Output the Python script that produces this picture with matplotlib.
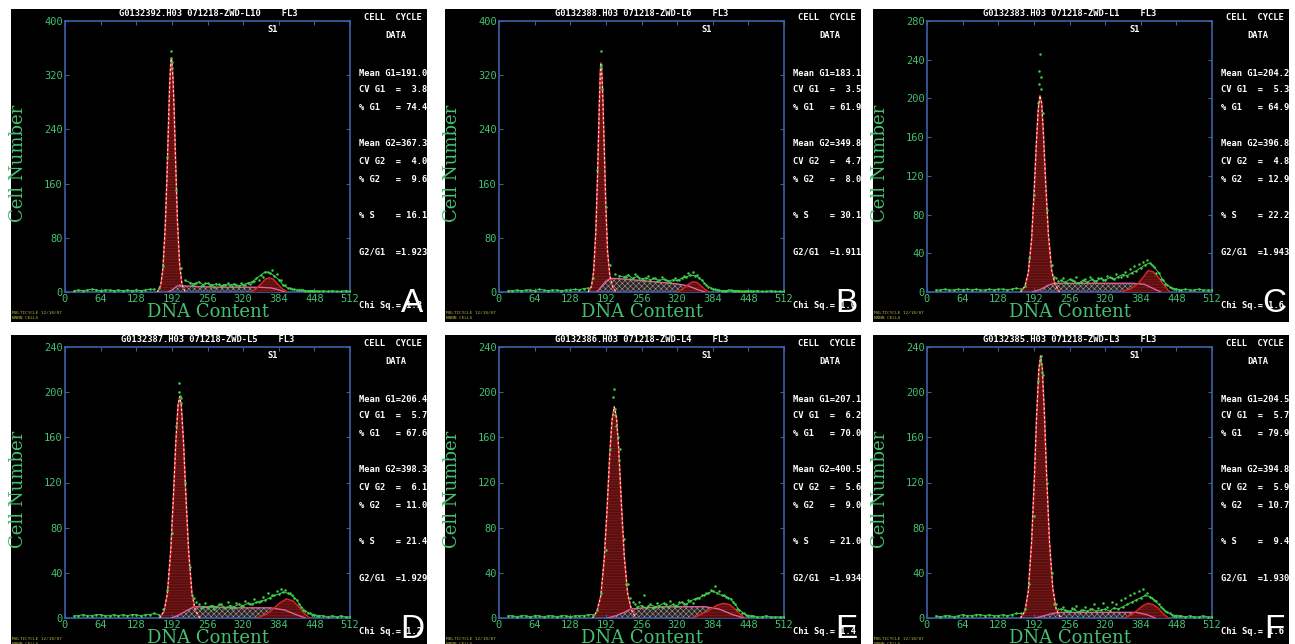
import numpy as np
import matplotlib
matplotlib.use("Agg")
from matplotlib import pyplot as plt

plt.rcParams['hatch.linewidth'] = 0.4

# canales comunes
bg_ch = list(range(16, 513, 8))
sc_ch = list(range(228, 453, 8))
x_ticks = [0, 64, 128, 192, 256, 320, 384, 448, 512]

letters = ["A", "B", "C", "D", "E", "F"]
files = ["G0132392.H03 071218-ZWD-L10", "G0132388.H03 071218-ZWD-L6", "G0132383.H03 071218-ZWD-L1",
         "G0132387.H03 071218-ZWD-L5", "G0132386.H03 071218-ZWD-L4", "G0132385.H03 071218-ZWD-L3"]
y_max = [400, 400, 280, 240, 240, 240]
y_step = [80, 80, 40, 40, 40, 40]

mean_g1 = [191.0, 183.1, 204.2, 206.4, 207.1, 204.5]
cv_g1 = [3.8, 3.5, 5.3, 5.7, 6.2, 5.7]
pct_g1 = [74.4, 61.9, 64.9, 67.6, 70.0, 79.9]
mean_g2 = [367.3, 349.8, 396.8, 398.3, 400.5, 394.8]
cv_g2 = [4.0, 4.7, 4.8, 6.1, 5.6, 5.9]
pct_g2 = [9.6, 8.0, 12.9, 11.0, 9.0, 10.7]
pct_s = [16.1, 30.1, 22.2, 21.4, 21.0, 9.4]
g2_g1 = [1.923, 1.911, 1.943, 1.929, 1.934, 1.930]
chi_sq = [1.3, 1.0, 1.6, 1.2, 1.4, 1.6]

# --- A ---
A_g1_x = [166, 172, 176, 180, 183, 186, 188, 190, 191, 192, 194, 196, 199, 202, 206, 210, 216]
A_g1_y = [0, 10, 35, 95, 165, 250, 305, 338, 345, 340, 315, 270, 185, 105, 40, 12, 0]
A_s_x = [186, 194, 200, 206, 214, 240, 280, 320, 350, 370, 385, 395]
A_s_y = [0, 4, 8, 10, 9, 8, 7, 7, 7, 6, 3, 0]
A_g2_x = [335, 345, 352, 360, 367, 374, 382, 390, 400]
A_g2_y = [0, 6, 12, 19, 21, 19, 12, 5, 0]
A_bg = [2, 3, 2, 3, 4, 3, 2, 3, 3, 2, 3, 2, 3, 2, 3, 2, 3, 4, 4,
        6, 38, 200, 340, 150, 35, 17, 14, 12, 15, 11, 13, 10, 12, 9, 11, 10, 12, 9, 11, 13, 15,
        20, 25, 30, 28, 24, 18, 10, 6, 4, 3, 3, 2, 2, 2, 1, 2, 1, 2, 1, 1, 2, 1]
A_sc = [10, 14, 9, 13, 11, 8, 12, 10, 14, 9, 11, 13, 10, 12, 16, 18, 22, 30, 33, 26,
        18, 10, 6, 4, 3, 3, 2, 2, 1]
A_pk_x = [190, 191, 192]
A_pk_y = [356, 345, 330]

# --- B ---
B_g1_x = [160, 166, 170, 174, 177, 180, 182, 183, 184, 186, 189, 192, 195, 199, 204, 210]
B_g1_y = [0, 8, 30, 90, 170, 270, 325, 338, 335, 300, 215, 125, 60, 25, 8, 0]
B_s_x = [176, 184, 192, 200, 210, 240, 280, 320, 340, 355, 370]
B_s_y = [0, 8, 16, 20, 20, 18, 15, 12, 9, 4, 0]
B_g2_x = [320, 330, 338, 345, 350, 356, 363, 370, 378]
B_g2_y = [0, 4, 10, 14, 15, 14, 9, 4, 0]
B_bg = [2, 2, 3, 2, 3, 3, 2, 4, 3, 2, 3, 3, 2, 3, 3, 4, 3, 5, 6,
        20, 180, 335, 125, 40, 26, 24, 22, 25, 20, 23, 19, 21, 18, 20, 17, 19, 16, 18, 17, 20,
        22, 25, 24, 21, 14, 8, 4, 3, 2, 2, 3, 2, 2, 1, 2, 1, 2, 1, 1, 2, 1, 1, 1]
B_sc = [22, 19, 26, 21, 17, 23, 20, 16, 22, 18, 15, 20, 18, 24, 28, 30, 25, 18, 10, 6,
        4, 3, 2, 3, 2, 2, 1, 2, 1]
B_pk_x = [183, 184, 185]
B_pk_y = [355, 330, 300]

# --- C ---
C_g1_x = [168, 176, 182, 188, 193, 197, 200, 203, 206, 209, 213, 218, 224, 230, 238]
C_g1_y = [0, 6, 20, 55, 110, 160, 190, 203, 195, 165, 115, 60, 22, 8, 0]
C_s_x = [190, 205, 218, 228, 260, 300, 340, 370, 390, 405, 420]
C_s_y = [0, 3, 7, 9, 9, 9, 9, 9, 8, 4, 0]
C_g2_x = [350, 365, 378, 388, 397, 406, 416, 426, 436]
C_g2_y = [0, 3, 8, 15, 22, 21, 15, 7, 0]
C_bg = [2, 2, 3, 2, 2, 3, 2, 3, 2, 3, 2, 2, 3, 2, 3, 3, 2, 3, 4,
        3, 6, 35, 100, 195, 185, 85, 28, 14, 12, 10, 13, 11, 9, 12, 10, 13, 11, 14, 12, 15,
        13, 16, 18, 17, 20, 22, 25, 28, 30, 26, 20, 12, 7, 4, 3, 2, 3, 2, 2, 3, 2, 2, 2]
C_sc = [16, 11, 14, 9, 12, 15, 10, 13, 16, 11, 14, 12, 17, 14, 19, 16, 21, 24, 27, 29,
        31, 33, 28, 20, 13, 8, 5, 3, 2]
C_pk_x = [201, 202, 203, 204, 205]
C_pk_y = [215, 228, 246, 222, 210]

# --- D ---
D_g1_x = [170, 178, 184, 190, 195, 199, 203, 206, 209, 213, 217, 222, 228, 234, 242]
D_g1_y = [0, 6, 22, 60, 110, 155, 188, 196, 188, 155, 110, 60, 22, 7, 0]
D_s_x = [192, 206, 220, 232, 260, 300, 340, 370, 395, 415, 432]
D_s_y = [0, 3, 7, 10, 10, 9, 9, 9, 7, 3, 0]
D_g2_x = [345, 360, 372, 385, 398, 410, 420, 430, 440]
D_g2_y = [0, 3, 7, 13, 17, 15, 10, 4, 0]
D_bg = [2, 2, 3, 2, 2, 3, 3, 2, 2, 3, 2, 3, 2, 3, 3, 2, 3, 3, 4,
        3, 8, 25, 75, 170, 195, 120, 45, 18, 12, 10, 9, 11, 10, 12, 9, 11, 10, 12, 11, 13,
        12, 14, 15, 16, 18, 20, 21, 23, 22, 20, 16, 10, 6, 4, 3, 2, 2, 1, 2, 1, 2, 1, 1]
D_sc = [20, 14, 9, 13, 11, 8, 12, 10, 14, 9, 13, 11, 15, 12, 17, 14, 19, 22, 20, 24,
        26, 25, 22, 18, 12, 7, 4, 3, 2]
D_pk_x = [204, 205, 207, 208]
D_pk_y = [200, 208, 197, 190]

# --- E ---
E_g1_x = [168, 176, 183, 189, 194, 199, 203, 207, 211, 215, 220, 225, 231, 238, 246]
E_g1_y = [0, 6, 20, 52, 95, 145, 175, 187, 178, 150, 100, 55, 22, 7, 0]
E_s_x = [195, 210, 225, 237, 260, 300, 340, 370, 395, 420, 440]
E_s_y = [0, 2, 5, 8, 9, 10, 10, 10, 8, 3, 0]
E_g2_x = [348, 362, 375, 390, 402, 414, 424, 432, 442]
E_g2_y = [0, 3, 6, 11, 13, 12, 8, 4, 0]
E_bg = [2, 2, 1, 2, 2, 1, 2, 2, 1, 2, 2, 1, 2, 2, 1, 2, 2, 2, 3,
        3, 7, 22, 60, 150, 185, 140, 70, 30, 14, 10, 11, 9, 12, 10, 11, 13, 10, 12, 11, 14,
        12, 15, 17, 18, 20, 22, 24, 22, 20, 19, 17, 12, 7, 4, 2, 2, 1, 1, 2, 1, 1, 1, 1]
E_sc = [30, 18, 12, 14, 20, 11, 9, 13, 10, 12, 15, 11, 14, 12, 16, 13, 18, 20, 22, 25,
        28, 24, 20, 18, 14, 8, 4, 3, 2]
E_pk_x = [205, 207, 209, 211, 214, 218]
E_pk_y = [196, 203, 180, 170, 160, 150]

# --- F ---
F_g1_x = [168, 176, 182, 188, 193, 197, 201, 204, 207, 211, 215, 220, 226, 232, 240]
F_g1_y = [0, 6, 24, 68, 125, 180, 220, 232, 222, 180, 125, 68, 26, 8, 0]
F_s_x = [195, 210, 225, 240, 280, 320, 350, 375, 395, 410]
F_s_y = [0, 2, 4, 5, 5, 5, 5, 5, 3, 0]
F_g2_x = [355, 368, 378, 388, 397, 406, 415, 424, 434]
F_g2_y = [0, 3, 7, 11, 13, 12, 9, 4, 0]
F_bg = [2, 1, 2, 2, 1, 2, 3, 2, 2, 3, 3, 2, 3, 2, 2, 3, 2, 3, 4,
        4, 8, 30, 90, 210, 215, 120, 40, 12, 8, 7, 6, 8, 5, 7, 6, 8, 6, 7, 8, 6,
        9, 8, 10, 12, 14, 16, 18, 20, 19, 16, 12, 8, 5, 3, 2, 2, 1, 2, 1, 1, 2, 1, 1]
F_sc = [12, 8, 10, 6, 9, 11, 7, 10, 8, 12, 9, 13, 10, 14, 12, 16, 18, 20, 22, 24,
        26, 22, 18, 15, 10, 6, 4, 2, 2]
F_pk_x = [203, 204, 205, 206]
F_pk_y = [228, 232, 225, 218]

panels = [
    (A_g1_x, A_g1_y, A_s_x, A_s_y, A_g2_x, A_g2_y, A_bg, A_sc, A_pk_x, A_pk_y),
    (B_g1_x, B_g1_y, B_s_x, B_s_y, B_g2_x, B_g2_y, B_bg, B_sc, B_pk_x, B_pk_y),
    (C_g1_x, C_g1_y, C_s_x, C_s_y, C_g2_x, C_g2_y, C_bg, C_sc, C_pk_x, C_pk_y),
    (D_g1_x, D_g1_y, D_s_x, D_s_y, D_g2_x, D_g2_y, D_bg, D_sc, D_pk_x, D_pk_y),
    (E_g1_x, E_g1_y, E_s_x, E_s_y, E_g2_x, E_g2_y, E_bg, E_sc, E_pk_x, E_pk_y),
    (F_g1_x, F_g1_y, F_s_x, F_s_y, F_g2_x, F_g2_y, F_bg, F_sc, F_pk_x, F_pk_y),
]

W, H = 1295, 644
fig = plt.figure(figsize=(W / 100, H / 100), dpi=100, facecolor="white")

col_left = [11, 445, 873]
row_top = [9, 335]
row_bot = [322, 644]
panel_w = 416

blue = "#3d5fa8"
green = "#45c070"
dotgreen = "#3fd24a"
mono = "DejaVu Sans Mono"


def ftext(x, y, s, **kw):
    fig.text(x / W, 1 - y / H, s, **kw)


for i, data in enumerate(panels):
    g1x, g1y, sx, sy, g2x, g2y, bg, sc, pkx, pky = data
    bl = col_left[i % 3]
    bt = row_top[i // 3]
    bb = row_bot[i // 3]

    back = fig.add_axes([bl / W, 1 - bb / H, panel_w / W, (bb - bt) / H])
    back.set_facecolor("black")
    back.set_xticks([])
    back.set_yticks([])
    for sp in back.spines.values():
        sp.set_visible(False)

    ax = fig.add_axes([(bl + 54) / W, 1 - (bt + 283) / H, 285 / W, 271 / H])
    ax.set_facecolor("none")
    ax.set_xlim(0, 512)
    ax.set_ylim(0, y_max[i])
    for sp in ax.spines.values():
        sp.set_color(blue)
        sp.set_linewidth(1.2)
    ax.set_xticks(x_ticks)
    ax.set_yticks(list(range(0, y_max[i] + 1, y_step[i])))
    ax.tick_params(axis="both", direction="in", length=3, color=blue, labelcolor=green,
                   labelsize=7.5, pad=1.5, top=True, right=True)
    for lab in ax.get_xticklabels() + ax.get_yticklabels():
        lab.set_family(mono)

    # G1 pico
    ax.fill_between(g1x, g1y, color="#5c0e0e", hatch="------", edgecolor="#7e2424",
                    linewidth=0, zorder=1)
    # fase S
    ax.fill_between(sx, sy, facecolor="#2a2222", hatch="xxxxxx", edgecolor="#a89a9a",
                    linewidth=0, zorder=2)
    ax.plot(sx, sy, color="#e0609a", lw=1.0, zorder=4)
    # G2
    ax.fill_between(g2x, g2y, color="#5c0e0e", hatch="------", edgecolor="#7e2424",
                    linewidth=0, zorder=3)
    ax.plot(g2x, g2y, color="#e02424", lw=1.0, zorder=4)
    ax.plot(g1x, g1y, color="#e02828", lw=1.2, zorder=4)
    ax.plot(g1x, g1y, color="#f4e4e4", lw=0.8, dashes=(2, 2), zorder=5)

    # datos
    ch = np.array(bg_ch)
    cnt = np.array(bg, dtype=float)
    line = np.where((ch > g1x[0]) & (ch < g1x[-1]), np.nan, cnt)
    ax.plot(ch, line, color=dotgreen, lw=0.7, zorder=6)
    ax.plot(ch, cnt, "o", color=dotgreen, ms=1.8, mec="none", zorder=6)
    ax.plot(sc_ch, sc, "o", color=dotgreen, ms=1.8, mec="none", zorder=6)
    ax.plot(pkx, pky, "o", color=dotgreen, ms=1.8, mec="none", zorder=6)

    # textos
    ftext(bl + 197, bt + 4, files[i] + "    FL3", color="white", family=mono,
          weight="bold", fontsize=6.3, ha="center", va="center")
    ftext(bl + 262, bt + 20, "S1", color="white", family=mono, weight="bold",
          fontsize=6.3, ha="center", va="center")
    ftext(bl + 353, bt + 9, "CELL  CYCLE", color="white", family=mono, weight="bold",
          fontsize=6.3, ha="left", va="center")
    ftext(bl + 385, bt + 27, "DATA", color="white", family=mono, weight="bold",
          fontsize=6.3, ha="center", va="center")
    stats = [
        (64, f"Mean G1={mean_g1[i]:5.1f}"),
        (81, f"CV G1  = {cv_g1[i]:4.1f}"),
        (99, f"% G1   = {pct_g1[i]:4.1f}"),
        (135, f"Mean G2={mean_g2[i]:5.1f}"),
        (153, f"CV G2  = {cv_g2[i]:4.1f}"),
        (171, f"% G2   = {pct_g2[i]:4.1f}"),
        (207, f"% S    = {pct_s[i]:4.1f}"),
        (243, f"G2/G1  ={g2_g1[i]:5.3f}"),
        (297, f"Chi Sq.= {chi_sq[i]:.1f}"),
    ]
    for dy, s in stats:
        ftext(bl + 348, bt + dy, s, color="white", family=mono, weight="bold",
              fontsize=6.3, ha="left", va="center")

    ftext(bl + 7, bt + 154, "Cell Number", color=green, family="DejaVu Serif",
          fontsize=13, rotation=90, ha="center", va="center")
    ftext(bl + 197, bt + 303, "DNA Content", color=green, family="DejaVu Serif",
          fontsize=13, ha="center", va="center")
    ftext(bl + 1, bt + 304, "MULTICYCLE 12/18/07", color="#b4b444", family=mono,
          fontsize=3.2, ha="left", va="center")
    ftext(bl + 1, bt + 309, "NNNN CELLS", color="#b4b444", family=mono,
          fontsize=3.2, ha="left", va="center")
    ftext(bl + 401, bt + 303, letters[i], color="white", family="Liberation Sans",
          fontsize=24, ha="center", va="baseline")

fig.savefig("out.png", dpi=100, facecolor="white")
